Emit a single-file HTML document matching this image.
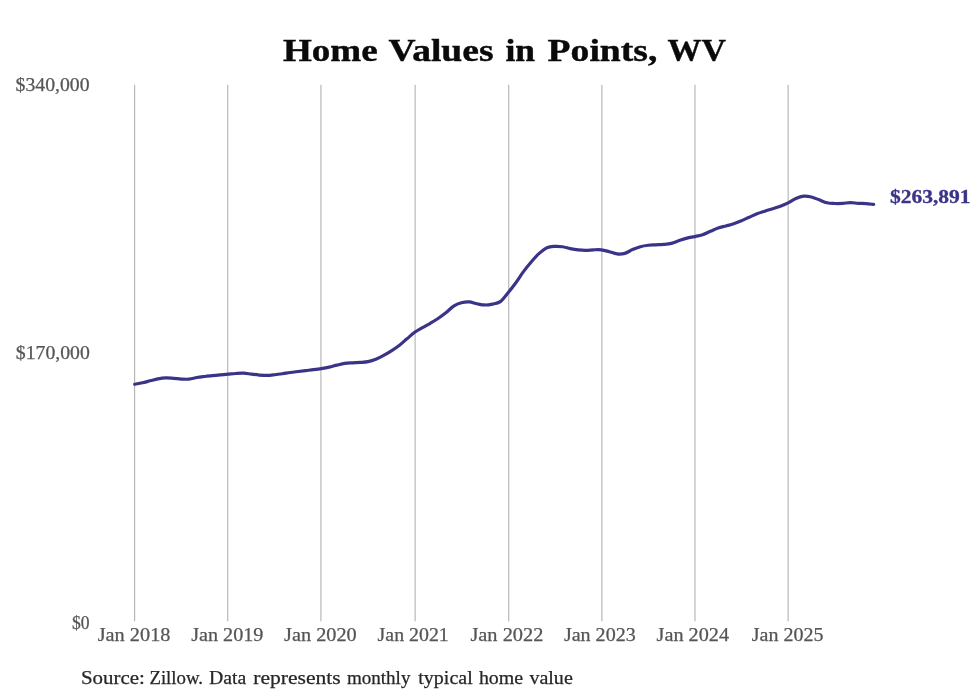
<!DOCTYPE html>
<html><head><meta charset="utf-8"><style>
html,body{margin:0;padding:0;background:#fff;width:980px;height:699px;overflow:hidden;}
svg{display:block;will-change:transform}
text{font-family:"Liberation Serif",serif;}
</style></head><body>
<svg width="980" height="699" viewBox="0 0 980 699">
<rect width="980" height="699" fill="#fff"/>
<g stroke="#aaaaaa" stroke-width="1">
<line x1="134.67" y1="84.8" x2="134.67" y2="621.3"/>
<line x1="227.78" y1="84.8" x2="227.78" y2="621.3"/>
<line x1="320.93" y1="84.8" x2="320.93" y2="621.3"/>
<line x1="415.10" y1="84.8" x2="415.10" y2="621.3"/>
<line x1="508.76" y1="84.8" x2="508.76" y2="621.3"/>
<line x1="601.90" y1="84.8" x2="601.90" y2="621.3"/>
<line x1="694.98" y1="84.8" x2="694.98" y2="621.3"/>
<line x1="788.12" y1="84.8" x2="788.12" y2="621.3"/>
</g>
<path d="M134.67,384.21 C135.97,383.98 139.86,383.38 142.45,382.81 C145.04,382.24 147.64,381.44 150.23,380.79 C152.82,380.14 155.41,379.37 158.01,378.89 C160.60,378.42 163.19,378.05 165.79,377.96 C168.38,377.87 170.97,378.18 173.57,378.36 C176.16,378.54 178.75,378.92 181.34,379.05 C183.94,379.18 186.53,379.39 189.12,379.14 C191.72,378.89 194.31,377.97 196.90,377.53 C199.50,377.09 202.09,376.82 204.68,376.51 C207.28,376.21 209.87,375.96 212.46,375.69 C215.05,375.42 217.65,375.15 220.24,374.90 C222.83,374.66 225.43,374.44 228.02,374.21 C230.61,373.97 233.21,373.65 235.80,373.48 C238.39,373.32 240.99,373.10 243.58,373.21 C246.17,373.32 248.76,373.84 251.36,374.14 C253.95,374.45 256.54,374.83 259.14,375.05 C261.73,375.27 264.32,375.51 266.92,375.47 C269.51,375.42 272.10,375.07 274.69,374.78 C277.29,374.49 279.88,374.12 282.47,373.74 C285.07,373.35 287.66,372.85 290.25,372.48 C292.85,372.11 295.44,371.83 298.03,371.52 C300.63,371.20 303.22,370.90 305.81,370.60 C308.40,370.29 311.00,370.02 313.59,369.68 C316.18,369.35 318.78,369.02 321.37,368.60 C323.96,368.17 326.56,367.70 329.15,367.12 C331.74,366.54 334.34,365.74 336.93,365.12 C339.52,364.50 342.11,363.78 344.71,363.40 C347.30,363.01 349.89,362.97 352.49,362.81 C355.08,362.64 357.67,362.61 360.27,362.41 C362.86,362.22 365.45,362.15 368.04,361.63 C370.64,361.11 373.23,360.32 375.82,359.29 C378.42,358.26 381.01,356.83 383.60,355.42 C386.20,354.02 388.79,352.51 391.38,350.86 C393.98,349.22 396.57,347.55 399.16,345.55 C401.75,343.54 404.35,341.04 406.94,338.84 C409.53,336.63 412.13,334.16 414.72,332.30 C417.31,330.43 419.91,329.15 422.50,327.64 C425.09,326.14 427.69,324.79 430.28,323.27 C432.87,321.74 435.46,320.25 438.06,318.50 C440.65,316.76 443.24,314.86 445.84,312.81 C448.43,310.75 451.02,307.83 453.62,306.16 C456.21,304.48 458.80,303.46 461.39,302.75 C463.99,302.04 466.58,301.74 469.17,301.90 C471.77,302.06 474.36,303.21 476.95,303.73 C479.55,304.24 482.14,304.91 484.73,304.97 C487.33,305.04 489.92,304.66 492.51,304.10 C495.10,303.54 497.70,303.50 500.29,301.62 C502.88,299.74 505.48,295.95 508.07,292.81 C510.66,289.66 513.26,286.32 515.85,282.75 C518.44,279.18 521.04,274.89 523.63,271.39 C526.22,267.89 528.81,264.74 531.41,261.74 C534.00,258.75 536.59,255.76 539.19,253.42 C541.78,251.08 544.37,248.87 546.97,247.70 C549.56,246.52 552.15,246.53 554.75,246.37 C557.34,246.21 559.93,246.36 562.52,246.74 C565.12,247.13 567.71,248.14 570.30,248.67 C572.90,249.20 575.49,249.64 578.08,249.92 C580.68,250.21 583.27,250.40 585.86,250.38 C588.45,250.36 591.05,249.89 593.64,249.80 C596.23,249.71 598.83,249.51 601.42,249.82 C604.01,250.13 606.61,251.01 609.20,251.69 C611.79,252.37 614.39,253.61 616.98,253.90 C619.57,254.19 622.16,254.13 624.76,253.41 C627.35,252.68 629.94,250.67 632.54,249.56 C635.13,248.44 637.72,247.45 640.32,246.73 C642.91,246.01 645.50,245.55 648.10,245.23 C650.69,244.92 653.28,244.96 655.87,244.83 C658.47,244.69 661.06,244.68 663.65,244.44 C666.25,244.20 668.84,244.03 671.43,243.39 C674.03,242.75 676.62,241.49 679.21,240.61 C681.80,239.73 684.40,238.78 686.99,238.11 C689.58,237.43 692.18,237.14 694.77,236.57 C697.36,236.01 699.96,235.59 702.55,234.71 C705.14,233.84 707.74,232.46 710.33,231.33 C712.92,230.20 715.51,228.85 718.11,227.95 C720.70,227.06 723.29,226.62 725.89,225.94 C728.48,225.26 731.07,224.73 733.67,223.85 C736.26,222.98 738.85,221.81 741.45,220.70 C744.04,219.59 746.63,218.36 749.22,217.21 C751.82,216.06 754.41,214.80 757.00,213.80 C759.60,212.79 762.19,212.03 764.78,211.19 C767.38,210.34 769.97,209.56 772.56,208.73 C775.15,207.91 777.75,207.20 780.34,206.23 C782.93,205.26 785.53,204.21 788.12,202.91 C790.71,201.61 793.31,199.54 795.90,198.42 C798.49,197.30 801.09,196.40 803.68,196.17 C806.27,195.93 808.86,196.38 811.46,196.99 C814.05,197.61 816.64,198.90 819.24,199.87 C821.83,200.84 824.42,202.19 827.02,202.79 C829.61,203.40 832.20,203.38 834.80,203.49 C837.39,203.59 839.98,203.56 842.57,203.41 C845.17,203.27 847.76,202.65 850.35,202.63 C852.95,202.61 855.54,203.13 858.13,203.30 C860.73,203.47 863.32,203.48 865.91,203.66 C868.50,203.85 872.39,204.28 873.69,204.40" fill="none" stroke="#3a3489" stroke-width="3.2" stroke-linecap="round" stroke-linejoin="round"/>
<text x="282.9" y="60.8" textLength="94.79" lengthAdjust="spacingAndGlyphs" style="font-size:31.5px;font-weight:bold;fill:#0a0a0a;stroke:#0a0a0a;stroke-width:0.4px">Home</text>
<text x="388.5" y="60.8" textLength="105.0" lengthAdjust="spacingAndGlyphs" style="font-size:31.5px;font-weight:bold;fill:#0a0a0a;stroke:#0a0a0a;stroke-width:0.4px">Values</text>
<text x="505.5" y="60.8" textLength="29.59" lengthAdjust="spacingAndGlyphs" style="font-size:31.5px;font-weight:bold;fill:#0a0a0a;stroke:#0a0a0a;stroke-width:0.4px">in</text>
<text x="547.6" y="60.8" textLength="109.78" lengthAdjust="spacingAndGlyphs" style="font-size:31.5px;font-weight:bold;fill:#0a0a0a;stroke:#0a0a0a;stroke-width:0.4px">Points,</text>
<text x="667.5" y="60.8" textLength="58.41" lengthAdjust="spacingAndGlyphs" style="font-size:31.5px;font-weight:bold;fill:#0a0a0a;stroke:#0a0a0a;stroke-width:0.4px">WV</text>
<text x="81.0" y="683.8" textLength="63.86" lengthAdjust="spacingAndGlyphs" style="font-size:19.5px;font-weight:normal;fill:#262626;stroke:#262626;stroke-width:0.25px">Source:</text>
<text x="149.4" y="683.8" textLength="53.66" lengthAdjust="spacingAndGlyphs" style="font-size:19.5px;font-weight:normal;fill:#262626;stroke:#262626;stroke-width:0.25px">Zillow.</text>
<text x="209.1" y="683.8" textLength="37.17" lengthAdjust="spacingAndGlyphs" style="font-size:19.5px;font-weight:normal;fill:#262626;stroke:#262626;stroke-width:0.25px">Data</text>
<text x="253.3" y="683.8" textLength="87.41" lengthAdjust="spacingAndGlyphs" style="font-size:19.5px;font-weight:normal;fill:#262626;stroke:#262626;stroke-width:0.25px">represents</text>
<text x="346.9" y="683.8" textLength="63.55" lengthAdjust="spacingAndGlyphs" style="font-size:19.5px;font-weight:normal;fill:#262626;stroke:#262626;stroke-width:0.25px">monthly</text>
<text x="418.3" y="683.8" textLength="54.4" lengthAdjust="spacingAndGlyphs" style="font-size:19.5px;font-weight:normal;fill:#262626;stroke:#262626;stroke-width:0.25px">typical</text>
<text x="478.9" y="683.8" textLength="44.21" lengthAdjust="spacingAndGlyphs" style="font-size:19.5px;font-weight:normal;fill:#262626;stroke:#262626;stroke-width:0.25px">home</text>
<text x="529.4" y="683.8" textLength="43.39" lengthAdjust="spacingAndGlyphs" style="font-size:19.5px;font-weight:normal;fill:#262626;stroke:#262626;stroke-width:0.25px">value</text>
<text x="15.6" y="91.2" textLength="74.0" lengthAdjust="spacingAndGlyphs" style="font-size:19px;font-weight:normal;fill:#555555;stroke:#555555;stroke-width:0.25px">$340,000</text>
<text x="15.8" y="359.1" textLength="74.0" lengthAdjust="spacingAndGlyphs" style="font-size:19px;font-weight:normal;fill:#555555;stroke:#555555;stroke-width:0.25px">$170,000</text>
<text x="71.9" y="629.4" textLength="17.56" lengthAdjust="spacingAndGlyphs" style="font-size:19px;font-weight:normal;fill:#555555;stroke:#555555;stroke-width:0.25px">$0</text>
<text x="97.7" y="640.7" textLength="72.76" lengthAdjust="spacingAndGlyphs" style="font-size:19px;font-weight:normal;fill:#555555;stroke:#555555;stroke-width:0.25px">Jan 2018</text>
<text x="191.2" y="640.7" textLength="72.2" lengthAdjust="spacingAndGlyphs" style="font-size:19px;font-weight:normal;fill:#555555;stroke:#555555;stroke-width:0.25px">Jan 2019</text>
<text x="284.1" y="640.7" textLength="72.57" lengthAdjust="spacingAndGlyphs" style="font-size:19px;font-weight:normal;fill:#555555;stroke:#555555;stroke-width:0.25px">Jan 2020</text>
<text x="377.6" y="640.7" textLength="71.21" lengthAdjust="spacingAndGlyphs" style="font-size:19px;font-weight:normal;fill:#555555;stroke:#555555;stroke-width:0.25px">Jan 2021</text>
<text x="470.4" y="640.7" textLength="73.03" lengthAdjust="spacingAndGlyphs" style="font-size:19px;font-weight:normal;fill:#555555;stroke:#555555;stroke-width:0.25px">Jan 2022</text>
<text x="563.9" y="640.7" textLength="71.81" lengthAdjust="spacingAndGlyphs" style="font-size:19px;font-weight:normal;fill:#555555;stroke:#555555;stroke-width:0.25px">Jan 2023</text>
<text x="656.6" y="640.7" textLength="72.39" lengthAdjust="spacingAndGlyphs" style="font-size:19px;font-weight:normal;fill:#555555;stroke:#555555;stroke-width:0.25px">Jan 2024</text>
<text x="751.8" y="640.7" textLength="71.75" lengthAdjust="spacingAndGlyphs" style="font-size:19px;font-weight:normal;fill:#555555;stroke:#555555;stroke-width:0.25px">Jan 2025</text>
<text x="890.0" y="203.4" textLength="80.6" lengthAdjust="spacingAndGlyphs" style="font-size:18px;font-weight:bold;fill:#3a3489;stroke:#3a3489;stroke-width:0.3px">$263,891</text>
</svg>
</body></html>
